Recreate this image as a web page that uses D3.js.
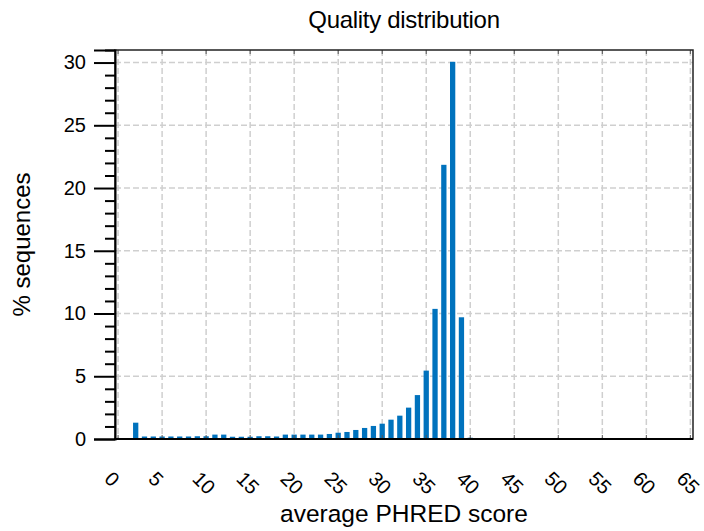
<!DOCTYPE html>
<html>
<head>
<meta charset="utf-8">
<script src="https://cdn.jsdelivr.net/npm/d3@7"></script>
<style>
    body { margin: 0; background: #fff; }
    svg { display: block; font-family: "Liberation Sans", Arial, sans-serif; }
</style>
</head>
<body>
<div id="chart"></div>
<script>
// average PHRED score per read -> % of sequences
const scores = [2, 3, 4, 5, 6, 7, 8, 9, 10, 11, 12, 13, 14, 15, 16, 17, 18, 19, 20,
    21, 22, 23, 24, 25, 26, 27, 28, 29, 30, 31, 32, 33, 34, 35, 36, 37, 38, 39, 40];
const percents = [1.3, 0.2, 0.2, 0.2, 0.2, 0.2, 0.2, 0.22, 0.22, 0.35, 0.35, 0.18, 0.18, 0.18, 0.22, 0.22, 0.2, 0.35, 0.35,
    0.35, 0.35, 0.35, 0.4, 0.5, 0.56, 0.72, 0.88, 1.04, 1.22, 1.54, 1.86, 2.5, 3.5, 5.45, 10.37, 21.85, 30.06, 9.7, 0.1];
const xTicks = [0, 5, 10, 15, 20, 25, 30, 35, 40, 45, 50, 55, 60, 65];
const yTicks = [0, 5, 10, 15, 20, 25, 30];
const yMinor = [1, 2, 3, 4, 6, 7, 8, 9, 11, 12, 13, 14, 16, 17, 18, 19, 21, 22, 23, 24, 26, 27, 28, 29, 31];

const W = 704, H = 531;
const M = { left: 115, right: 693, top: 50, bottom: 439 };

const svg = d3.select("#chart").append("svg")
    .attr("width", W)
    .attr("height", H);

const x = d3.scaleLinear().domain([-0.35, 65.3]).range([M.left, M.right]);
const y = d3.scaleLinear().domain([0, 31]).range([M.bottom, M.top]);
const unit = x(1) - x(0);

// grid
const grid = svg.append("g")
    .attr("stroke", "#cfcfcf")
    .attr("stroke-width", 1.5)
    .attr("stroke-dasharray", "6,3");
grid.selectAll("line.v")
    .data(xTicks)
    .enter().append("line")
    .attr("class", "v")
    .attr("x1", d => x(d)).attr("x2", d => x(d))
    .attr("y1", M.top).attr("y2", M.bottom);
grid.selectAll("line.h")
    .data(yTicks.slice(1))
    .enter().append("line")
    .attr("class", "h")
    .attr("x1", M.left).attr("x2", M.right)
    .attr("y1", d => y(d)).attr("y2", d => y(d));

// bars
svg.append("g").selectAll("rect")
    .data(scores)
    .enter().append("rect")
    .attr("x", d => x(d) - unit * 0.3)
    .attr("width", unit * 0.6)
    .attr("y", (d, i) => y(percents[i]))
    .attr("height", (d, i) => M.bottom - y(percents[i]))
    .attr("fill", "#0072BD");

// small inner ticks on top and bottom
const inner = svg.append("g").attr("stroke", "#555").attr("stroke-width", 1);
xTicks.forEach(t => {
    inner.append("line").attr("x1", x(t)).attr("x2", x(t)).attr("y1", M.bottom).attr("y2", M.bottom - 4);
    inner.append("line").attr("x1", x(t)).attr("x2", x(t)).attr("y1", M.top).attr("y2", M.top + 4);
});

// box
svg.append("rect")
    .attr("x", M.left).attr("y", M.top)
    .attr("width", M.right - M.left).attr("height", M.bottom - M.top)
    .attr("fill", "none")
    .attr("stroke", "#222")
    .attr("stroke-width", 1.5);

// y axis: long outward major ticks, shorter minor ticks
const yAxis = d3.axisLeft(y)
    .tickValues(yTicks)
    .tickSize(21)
    .tickPadding(8);
const yG = svg.append("g")
    .attr("transform", "translate(" + M.left + ",0)")
    .call(yAxis);
yG.select(".domain").attr("stroke", "#000").attr("stroke-width", 2);
yG.selectAll(".tick line").attr("stroke", "#000").attr("stroke-width", 2);
yG.selectAll(".tick text")
    .attr("font-size", 20)
    .attr("fill", "#000");

svg.append("g")
    .attr("transform", "translate(" + M.left + ",0)")
    .call(d3.axisLeft(y).tickValues(yMinor).tickSize(10).tickFormat(""))
    .call(g => g.select(".domain").remove())
    .selectAll(".tick line").attr("stroke", "#000").attr("stroke-width", 2);

// bottom axis line
svg.append("line")
    .attr("x1", M.left - 1).attr("x2", M.right)
    .attr("y1", M.bottom).attr("y2", M.bottom)
    .attr("stroke", "#000")
    .attr("stroke-width", 2);

// rotated x tick labels
svg.append("g").selectAll("text")
    .data(xTicks)
    .enter().append("text")
    .attr("transform", d => "translate(" + (x(d) - 10) + "," + (M.bottom + 36) + ") rotate(45)")
    .attr("text-anchor", "start")
    .attr("dy", "0.35em")
    .attr("font-size", 20)
    .attr("fill", "#000")
    .text(d => d);

// labels
svg.append("text")
    .attr("x", (M.left + M.right) / 2)
    .attr("y", 28)
    .attr("text-anchor", "middle")
    .attr("font-size", 24)
    .attr("letter-spacing", "-0.3")
    .attr("fill", "#000")
    .text("Quality distribution");

svg.append("text")
    .attr("x", (M.left + M.right) / 2)
    .attr("y", 522)
    .attr("text-anchor", "middle")
    .attr("font-size", 24.5)
    .attr("fill", "#000")
    .text("average PHRED score");

svg.append("text")
    .attr("transform", "translate(30," + ((M.top + M.bottom) / 2) + ") rotate(-90)")
    .attr("text-anchor", "middle")
    .attr("font-size", 24)
    .attr("fill", "#000")
    .text("% sequences");
</script>
</body>
</html>
